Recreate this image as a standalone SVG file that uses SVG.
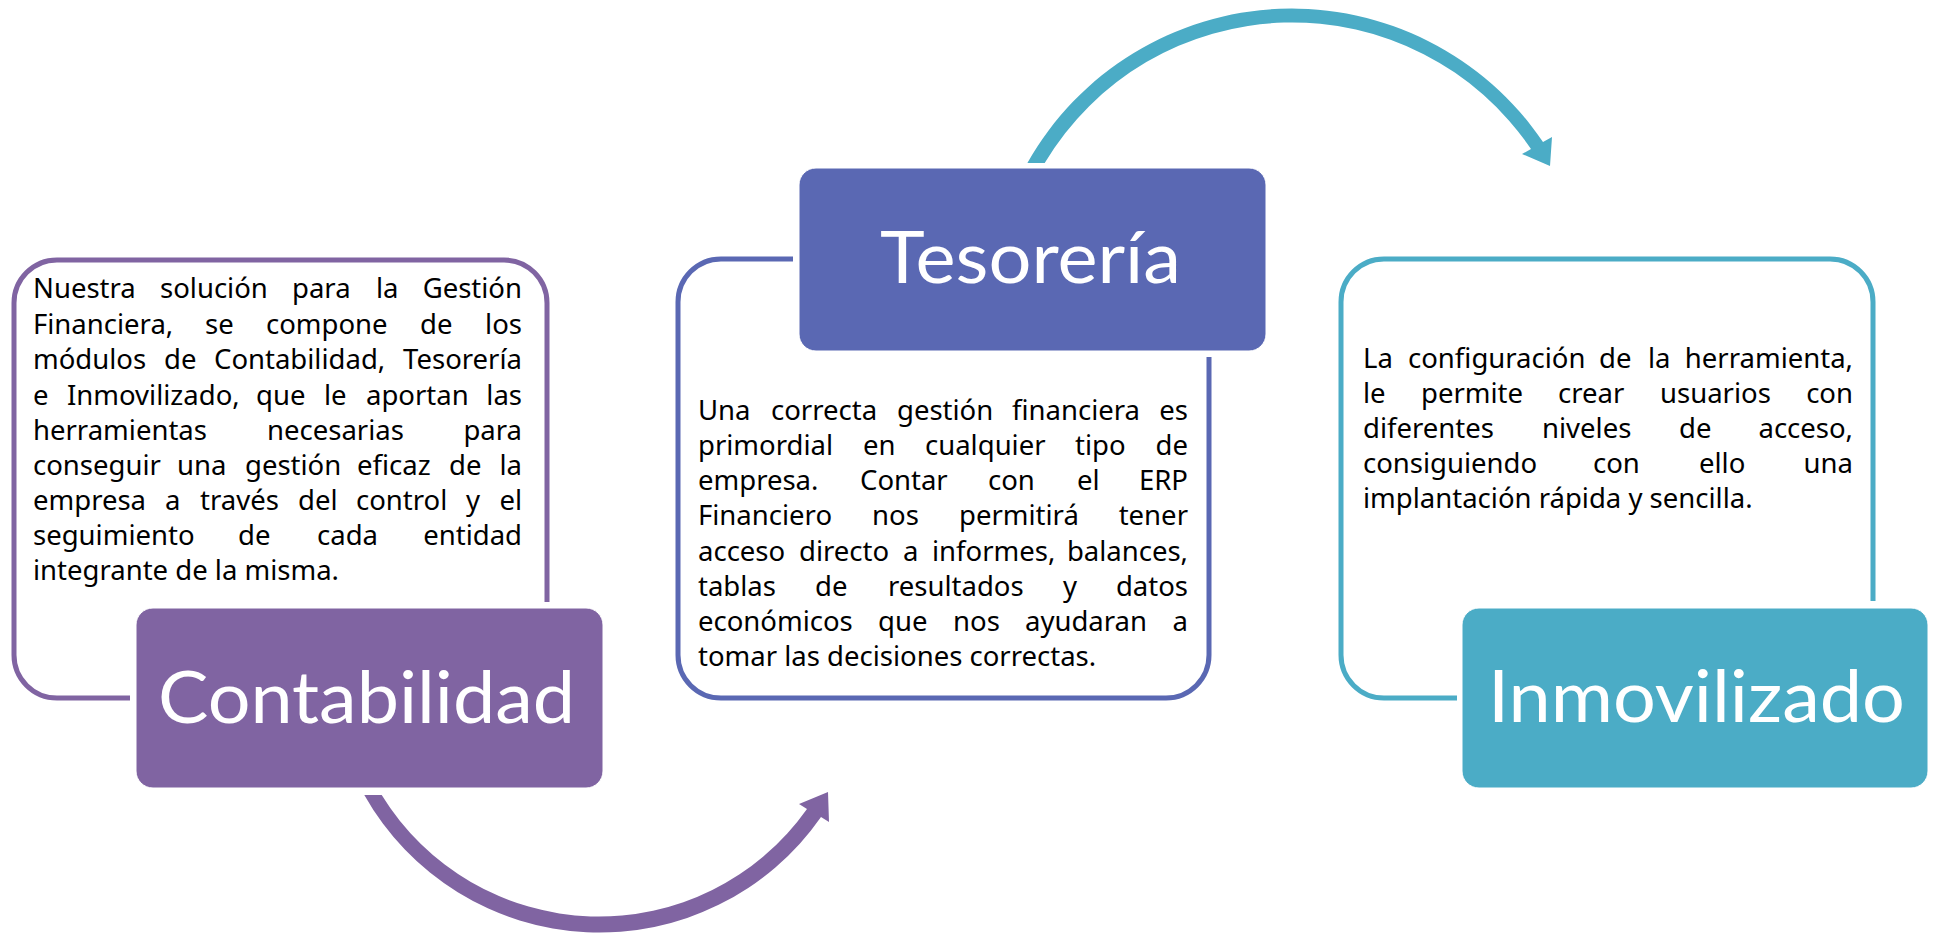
<svg xmlns="http://www.w3.org/2000/svg" width="1937" height="936" viewBox="0 0 1937 936">
<style>
.bg{fill:#ffffff}
.ol{fill:none;stroke-width:5}
.p{stroke:#8064A2}.b{stroke:#5A68B3}.a{stroke:#4BACC6}
.pf{fill:#8064A2}.bf{fill:#5A68B3}.af{fill:#4BACC6}
.box{stroke:#ffffff;stroke-width:1}
.lbl{font-family:Lato,"Open Sans",sans-serif;font-size:72px;fill:#ffffff}
.t{font-family:"Noto Sans","DejaVu Sans",sans-serif;font-size:27.5px;fill:#000000}
.r{text-anchor:end}
</style>
<rect class="bg" x="0" y="0" width="1937" height="936"/>
<g id="connectors">
<path id="arrow-contabilidad-tesoreria" class="pf" d="M 364.3 795 A 270 270 0 0 0 821 817 L 829 822 L 828 792 L 799 804 L 807 809 A 255 255 0 0 1 381.7 795 Z"/>
<path id="arrow-tesoreria-inmovilizado" class="af" d="M 1027.4 163 A 303.4 303.4 0 0 1 1543 142 L 1552 137 L 1550 166 L 1522 154 L 1531 149 A 288.4 288.4 0 0 0 1044.7 163 Z"/>
</g>
<g id="node-contabilidad">
<path class="ol p" d="M 547 602 V 303 A 43 43 0 0 0 504 260 H 57 A 43 43 0 0 0 14 303 V 655 A 43 43 0 0 0 57 698 H 130"/>
<rect class="box pf" x="136" y="608" width="467" height="180" rx="17"/>
<text class="lbl" x="158" y="723" textLength="417" lengthAdjust="spacingAndGlyphs">Contabilidad</text>
<text class="t" y="298"><tspan x="33">Nuestra</tspan><tspan x="160">solución</tspan><tspan x="292">para</tspan><tspan x="376">la</tspan></text>
<text class="t r" x="522" y="298">Gestión</text>
<text class="t" y="334"><tspan x="33">Financiera,</tspan><tspan x="205">se</tspan><tspan x="266">compone</tspan><tspan x="420">de</tspan></text>
<text class="t r" x="522" y="334">los</text>
<text class="t" y="369"><tspan x="33">módulos</tspan><tspan x="164">de</tspan><tspan x="214">Contabilidad,</tspan></text>
<text class="t r" x="522" y="369">Tesorería</text>
<text class="t" y="405"><tspan x="33">e</tspan><tspan x="67">Inmovilizado,</tspan><tspan x="256">que</tspan><tspan x="324">le</tspan><tspan x="366">aportan</tspan></text>
<text class="t r" x="522" y="405">las</text>
<text class="t" y="440"><tspan x="33">herramientas</tspan><tspan x="267">necesarias</tspan></text>
<text class="t r" x="522" y="440">para</text>
<text class="t" y="475"><tspan x="33">conseguir</tspan><tspan x="177">una</tspan><tspan x="245">gestión</tspan><tspan x="357">eficaz</tspan><tspan x="449">de</tspan></text>
<text class="t r" x="522" y="475">la</text>
<text class="t" y="510"><tspan x="33">empresa</tspan><tspan x="165">a</tspan><tspan x="200">través</tspan><tspan x="298">del</tspan><tspan x="356">control</tspan><tspan x="466">y</tspan></text>
<text class="t r" x="522" y="510">el</text>
<text class="t" y="545"><tspan x="33">seguimiento</tspan><tspan x="238">de</tspan><tspan x="317">cada</tspan></text>
<text class="t r" x="522" y="545">entidad</text>
<text class="t" x="33" y="580">integrante de la misma.</text>
</g>
<g id="node-tesoreria">
<path class="ol b" d="M 793 259 H 721 A 43 43 0 0 0 678 302 V 655 A 43 43 0 0 0 721 698 H 1166 A 43 43 0 0 0 1209 655 V 357"/>
<rect class="box bf" x="799" y="168" width="467" height="183" rx="17"/>
<text class="lbl" x="880" y="283" textLength="301" lengthAdjust="spacingAndGlyphs">Tesorería</text>
<text class="t" y="420"><tspan x="698">Una</tspan><tspan x="771">correcta</tspan><tspan x="897">gestión</tspan><tspan x="1012">financiera</tspan></text>
<text class="t r" x="1188" y="420">es</text>
<text class="t" y="455"><tspan x="698">primordial</tspan><tspan x="863">en</tspan><tspan x="925">cualquier</tspan><tspan x="1075">tipo</tspan></text>
<text class="t r" x="1188" y="455">de</text>
<text class="t" y="490"><tspan x="698">empresa.</tspan><tspan x="860">Contar</tspan><tspan x="988">con</tspan><tspan x="1077">el</tspan></text>
<text class="t r" x="1188" y="490">ERP</text>
<text class="t" y="525"><tspan x="698">Financiero</tspan><tspan x="872">nos</tspan><tspan x="959">permitirá</tspan></text>
<text class="t r" x="1188" y="525">tener</text>
<text class="t" y="561"><tspan x="698">acceso</tspan><tspan x="799">directo</tspan><tspan x="903">a</tspan><tspan x="932">informes,</tspan></text>
<text class="t r" x="1188" y="561">balances,</text>
<text class="t" y="596"><tspan x="698">tablas</tspan><tspan x="815">de</tspan><tspan x="888">resultados</tspan><tspan x="1063">y</tspan></text>
<text class="t r" x="1188" y="596">datos</text>
<text class="t" y="631"><tspan x="698">económicos</tspan><tspan x="878">que</tspan><tspan x="953">nos</tspan><tspan x="1025">ayudaran</tspan></text>
<text class="t r" x="1188" y="631">a</text>
<text class="t" x="698" y="666">tomar las decisiones correctas.</text>
</g>
<g id="node-inmovilizado">
<path class="ol a" d="M 1873 601 V 302 A 43 43 0 0 0 1830 259 H 1384 A 43 43 0 0 0 1341 302 V 655 A 43 43 0 0 0 1384 698 H 1457"/>
<rect class="box af" x="1462" y="608" width="466" height="180" rx="17"/>
<text class="lbl" x="1488" y="722" textLength="417" lengthAdjust="spacingAndGlyphs">Inmovilizado</text>
<text class="t" y="368"><tspan x="1363">La</tspan><tspan x="1408">configuración</tspan><tspan x="1599">de</tspan><tspan x="1648">la</tspan></text>
<text class="t r" x="1853" y="368">herramienta,</text>
<text class="t" y="403"><tspan x="1363">le</tspan><tspan x="1421">permite</tspan><tspan x="1558">crear</tspan><tspan x="1660">usuarios</tspan></text>
<text class="t r" x="1853" y="403">con</text>
<text class="t" y="438"><tspan x="1363">diferentes</tspan><tspan x="1542">niveles</tspan><tspan x="1679">de</tspan></text>
<text class="t r" x="1853" y="438">acceso,</text>
<text class="t" y="473"><tspan x="1363">consiguiendo</tspan><tspan x="1593">con</tspan><tspan x="1699">ello</tspan></text>
<text class="t r" x="1853" y="473">una</text>
<text class="t" x="1363" y="508">implantación rápida y sencilla.</text>
</g>
</svg>
